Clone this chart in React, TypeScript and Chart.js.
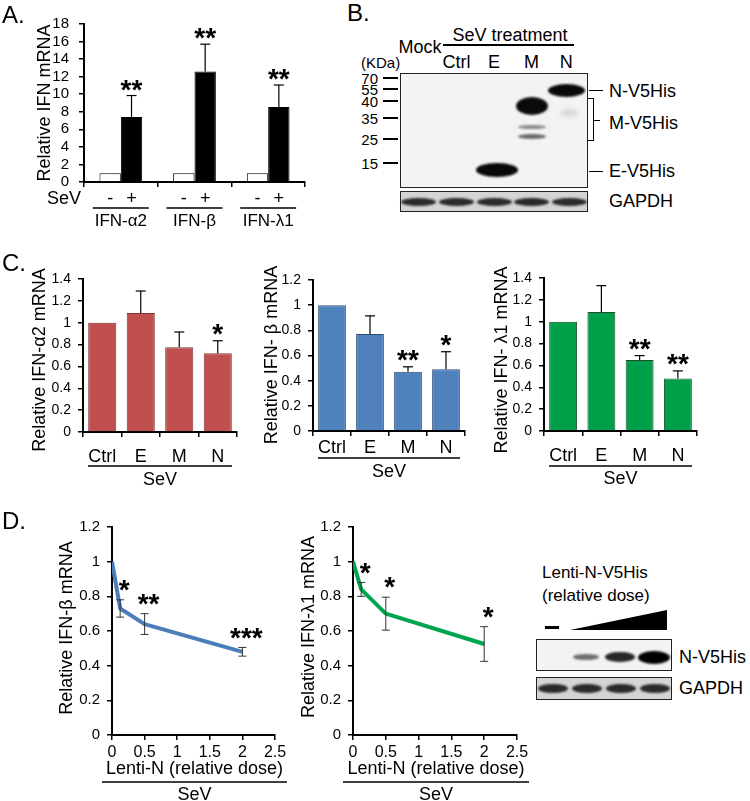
import React, { useEffect, useRef } from 'react';
import { Chart, registerables } from 'chart.js';
Chart.register(...registerables);

const FONT = '"Liberation Sans", Arial, Helvetica, sans-serif';
const W = 750;
const H = 801;

// ---------- Panel A data ----------
const aGroups = ['IFN-α2', 'IFN-β', 'IFN-λ1'];
const aMock = [1, 1, 1];
const aSeV = [7.4, 12.6, 8.55];
const aSeVErr = [2.45, 3.1, 2.5];
const aSig = ['**', '**', '**'];
const aYTicks = [0, 2, 4, 6, 8, 10, 12, 14, 16, 18];
const aSeVMarks = ['-', '+'];

// ---------- Panel C data ----------
const cCats = ['Ctrl', 'E', 'M', 'N'];
const cYTicks14 = [0, 0.2, 0.4, 0.6, 0.8, 1, 1.2, 1.4];
const cYTicks12 = [0, 0.2, 0.4, 0.6, 0.8, 1, 1.2];
const cAlpha = [1, 1.09, 0.775, 0.72];
const cAlphaErr = [0, 0.2, 0.14, 0.115];
const cAlphaSig = ['', '', '', '*'];
const cBeta = [1, 0.77, 0.47, 0.49];
const cBetaErr = [0, 0.145, 0.04, 0.14];
const cBetaSig = ['', '', '**', '*'];
const cLambda = [1, 1.09, 0.65, 0.48];
const cLambdaErr = [0, 0.24, 0.04, 0.07];
const cLambdaSig = ['', '', '**', '**'];

// ---------- Panel D data ----------
const dDose = [0, 0.125, 0.5, 2];
const dXTicks = [0, 0.5, 1, 1.5, 2, 2.5];
const dYTicks = [0, 0.2, 0.4, 0.6, 0.8, 1, 1.2];
const dBeta = [1, 0.73, 0.64, 0.48];
const dBetaErr = [0, 0.05, 0.06, 0.025];
const dBetaSig = ['', '*', '**', '***'];
const dLambda = [1, 0.84, 0.7, 0.525];
const dLambdaErr = [0, 0.04, 0.095, 0.1];
const dLambdaSig = ['', '*', '*', '*'];

// ---------- Blot content ----------
const bLanes = ['Mock', 'Ctrl', 'E', 'M', 'N'];
const bMarkers = ['70', '55', '40', '35', '25', '15'];
const bProteins = ['N-V5His', 'M-V5His', 'E-V5His'];
const dBlotIntensity = [0, 0.3, 0.75, 1];

type Area = { L: number; R: number; T: number; B: number };

const fmt = (v: number) => String(Math.round(v * 100) / 100);

function padOf(a: Area, wy = 40, hx = 30) {
  return { left: a.L - wy, top: a.T, right: W - a.R, bottom: H - a.B - hx };
}

function yAxis(ticks: number[], size: number, tickPad: number) {
  return {
    type: 'linear',
    min: ticks[0],
    max: ticks[ticks.length - 1],
    afterBuildTicks: (s: any) => {
      s.ticks = ticks.map((value) => ({ value }));
    },
    afterFit: (s: any) => {
      s.width = 40;
    },
    border: { display: true, color: '#000', width: 2 },
    grid: { display: true, drawOnChartArea: false, drawTicks: true, tickLength: 5, color: '#000', lineWidth: 1.5 },
    ticks: {
      color: '#000',
      font: { family: FONT, size },
      padding: tickPad,
      autoSkip: false,
      callback: (v: any) => fmt(Number(v)),
    },
  };
}

function xCat(size: number, tickPad: number, show: boolean) {
  return {
    type: 'category',
    offset: true,
    afterFit: (s: any) => {
      s.height = 30;
    },
    border: { display: true, color: '#000', width: 2 },
    grid: { display: true, offset: true, drawOnChartArea: false, drawTicks: true, tickLength: 5, color: '#000', lineWidth: 1.5 },
    ticks: { display: show, color: '#000', font: { family: FONT, size }, padding: tickPad, maxRotation: 0, autoSkip: false },
  };
}

function common(area: Area, scales: any) {
  return {
    responsive: false,
    animation: false,
    devicePixelRatio: 1,
    events: [],
    layout: { padding: padOf(area) },
    plugins: { legend: { display: false }, tooltip: { enabled: false }, title: { display: false } },
    scales,
  };
}

// ---------- canvas helpers ----------
function txt(ctx: CanvasRenderingContext2D, s: string, x: number, cy: number, size: number, align: CanvasTextAlign = 'center', weight = 'normal') {
  ctx.save();
  ctx.font = `${weight} ${size}px ${FONT}`;
  ctx.fillStyle = '#000';
  ctx.textAlign = align;
  ctx.textBaseline = 'alphabetic';
  ctx.fillText(s, x, cy + 0.358 * size);
  ctx.restore();
}
function vtxt(ctx: CanvasRenderingContext2D, s: string, bx: number, cy: number, size: number) {
  ctx.save();
  ctx.translate(bx, cy);
  ctx.rotate(-Math.PI / 2);
  ctx.font = `${size}px ${FONT}`;
  ctx.fillStyle = '#000';
  ctx.textAlign = 'center';
  ctx.textBaseline = 'alphabetic';
  ctx.fillText(s, 0, 0);
  ctx.restore();
}
function star(ctx: CanvasRenderingContext2D, s: string, x: number, cy: number, size = 28) {
  if (!s) return;
  ctx.save();
  ctx.font = `bold ${size}px ${FONT}`;
  ctx.fillStyle = '#000';
  ctx.textAlign = 'center';
  ctx.textBaseline = 'alphabetic';
  ctx.fillText(s, x, cy + 0.575 * size);
  ctx.restore();
}
function seg(ctx: CanvasRenderingContext2D, x1: number, y1: number, x2: number, y2: number, w = 1, c = '#000') {
  ctx.save();
  ctx.strokeStyle = c;
  ctx.lineWidth = w;
  ctx.beginPath();
  ctx.moveTo(x1, y1);
  ctx.lineTo(x2, y2);
  ctx.stroke();
  ctx.restore();
}
function errBar(ctx: CanvasRenderingContext2D, x: number, y1: number, y2: number, cap: number, c = '#000', w = 1.2) {
  seg(ctx, x, y1, x, y2, w, c);
  seg(ctx, x - cap, y2, x + cap, y2, w, c);
}

function deco(id: string, fn: (chart: any, ctx: CanvasRenderingContext2D) => void) {
  return { id, afterDraw: (chart: any) => fn(chart, chart.ctx) };
}

// ---------- Panel A ----------
const aArea: Area = { L: 84, R: 305, T: 24, B: 182 };
function makeA(): any {
  return {
    type: 'bar',
    data: {
      labels: aGroups,
      datasets: [
        { data: aMock, backgroundColor: '#fff', borderColor: '#000', borderWidth: 1, barPercentage: 1, categoryPercentage: 0.58 },
        { data: aSeV, backgroundColor: '#000', borderColor: '#000', borderWidth: 1, barPercentage: 1, categoryPercentage: 0.58 },
      ],
    },
    options: common(aArea, { x: xCat(17, 10, false), y: yAxis(aYTicks, 15, 10) }),
    plugins: [
      deco('decoA', (chart, ctx) => {
        const x = chart.scales.x;
        const y = chart.scales.y;
        const m0 = chart.getDatasetMeta(0);
        const m1 = chart.getDatasetMeta(1);
        aSeV.forEach((v, j) => {
          const bx = m1.data[j].x;
          const ye = y.getPixelForValue(v + aSeVErr[j]);
          errBar(ctx, bx, y.getPixelForValue(v), ye, 5);
          star(ctx, aSig[j], bx, ye - 13);
          txt(ctx, aSeVMarks[0], m0.data[j].x, 198, 18);
          txt(ctx, aSeVMarks[1], m1.data[j].x, 198, 18);
          const cx = x.getPixelForTick(j);
          seg(ctx, cx - 28, 208, cx + 28, 208, 1.5);
          txt(ctx, aGroups[j], cx, 220, 17);
        });
        txt(ctx, 'SeV', aArea.L - 20, 198, 18);
        vtxt(ctx, 'Relative IFN mRNA', 50, 103, 18);
        txt(ctx, 'A.', 2, 14, 24, 'left');
      }),
    ],
  };
}

// ---------- Panel C ----------
type CCfg = {
  id: string; area: Area; vals: number[]; errs: number[]; sigs: string[]; ticks: number[];
  fill: string; border: string; title: string; titleX: number; titleY: number;
  labelPad: number; ulY: number; sevY: number; letter?: boolean;
};
function makeC(c: CCfg): any {
  return {
    type: 'bar',
    data: {
      labels: cCats,
      datasets: [{ data: c.vals, backgroundColor: c.fill, borderColor: c.border, borderWidth: 1, barPercentage: 1, categoryPercentage: 0.73 }],
    },
    options: common(c.area, { x: xCat(18, c.labelPad, true), y: yAxis(c.ticks, 14, 7) }),
    plugins: [
      deco(c.id, (chart, ctx) => {
        const y = chart.scales.y;
        const m = chart.getDatasetMeta(0);
        c.vals.forEach((v, j) => {
          const bx = m.data[j].x;
          let top = y.getPixelForValue(v);
          if (c.errs[j] > 0) {
            top = y.getPixelForValue(v + c.errs[j]);
            errBar(ctx, bx, y.getPixelForValue(v), top, 5);
          }
          star(ctx, c.sigs[j], bx, top - 14);
        });
        seg(ctx, c.area.L + 5, c.ulY, c.area.R - 5, c.ulY, 1.5);
        txt(ctx, 'SeV', (c.area.L + c.area.R) / 2, c.sevY, 18);
        vtxt(ctx, c.title, c.titleX, c.titleY, 18);
        if (c.letter) txt(ctx, 'C.', 2, 262, 24, 'left');
      }),
    ],
  };
}

// ---------- Panel D ----------
type DCfg = {
  id: string; area: Area; vals: number[]; errs: number[]; sigs: string[]; color: string;
  title: string; titleX: number; titleY: number; letter?: boolean;
};
function makeD(c: DCfg): any {
  return {
    type: 'line',
    data: {
      datasets: [
        {
          data: dDose.map((x, i) => ({ x, y: c.vals[i] })),
          borderColor: c.color,
          borderWidth: 4,
          pointRadius: 0,
          tension: 0,
          fill: false,
          borderJoinStyle: 'round',
        },
      ],
    },
    options: common(c.area, {
      x: {
        type: 'linear',
        min: dXTicks[0],
        max: dXTicks[dXTicks.length - 1],
        afterBuildTicks: (s: any) => {
          s.ticks = dXTicks.map((value) => ({ value }));
        },
        afterFit: (s: any) => {
          s.height = 30;
        },
        border: { display: true, color: '#000', width: 2 },
        grid: { display: true, drawOnChartArea: false, drawTicks: true, tickLength: 5, color: '#000', lineWidth: 1.5 },
        ticks: { color: '#000', font: { family: FONT, size: 16 }, padding: 3, maxRotation: 0, autoSkip: false, callback: (v: any) => fmt(Number(v)) },
      },
      y: yAxis(dYTicks, 15, 7),
    }),
    plugins: [
      deco(c.id, (chart, ctx) => {
        const y = chart.scales.y;
        const m = chart.getDatasetMeta(0);
        c.vals.forEach((v, j) => {
          if (c.errs[j] <= 0) return;
          const px = m.data[j].x;
          const yt = y.getPixelForValue(v + c.errs[j]);
          const yb = y.getPixelForValue(v - c.errs[j]);
          seg(ctx, px, yt, px, yb, 1, '#333');
          seg(ctx, px - 4, yt, px + 4, yt, 1, '#333');
          seg(ctx, px - 4, yb, px + 4, yb, 1, '#333');
          star(ctx, c.sigs[j], px + 4, yt - 17);
        });
        const cx = (c.area.L + c.area.R) / 2;
        txt(ctx, 'Lenti-N (relative dose)', cx + 1, 768, 18);
        seg(ctx, c.area.L - 10, 782, c.area.R + 12, 782, 1.5);
        txt(ctx, 'SeV', cx + 1, 794, 18);
        vtxt(ctx, c.title, c.titleX, c.titleY, 18);
        if (c.letter) txt(ctx, 'D.', 2, 520, 24, 'left');
      }),
    ],
  };
}

// ---------- HTML helpers for blots ----------
function Label(p: { x: number; y: number; size: number; text: string; align?: 'left' | 'center' | 'right' }) {
  const tx = p.align === 'center' ? '-50%' : p.align === 'right' ? '-100%' : '0';
  return (
    <div
      style={{
        position: 'absolute',
        left: p.x,
        top: p.y - 0.49 * p.size,
        fontSize: p.size,
        lineHeight: `${p.size}px`,
        fontFamily: FONT,
        whiteSpace: 'nowrap',
        color: '#000',
        transform: `translateX(${tx})`,
      }}
    >
      {p.text}
    </div>
  );
}
function Rect(p: { x: number; y: number; w: number; h: number; bg: string; border?: string; clip?: string }) {
  return (
    <div
      style={{
        position: 'absolute',
        left: p.x,
        top: p.y,
        width: p.w,
        height: p.h,
        background: p.bg,
        border: p.border,
        boxSizing: 'border-box',
        clipPath: p.clip,
      }}
    />
  );
}
function Band(p: { cx: number; cy: number; w: number; h: number; color: string; blur?: number }) {
  return (
    <div
      style={{
        position: 'absolute',
        left: p.cx - p.w / 2,
        top: p.cy - p.h / 2,
        width: p.w,
        height: p.h,
        background: p.color,
        borderRadius: '50%',
        filter: `blur(${p.blur ?? 1.2}px)`,
      }}
    />
  );
}

export default function App() {
  const rA = useRef<HTMLCanvasElement>(null);
  const rC1 = useRef<HTMLCanvasElement>(null);
  const rC2 = useRef<HTMLCanvasElement>(null);
  const rC3 = useRef<HTMLCanvasElement>(null);
  const rD1 = useRef<HTMLCanvasElement>(null);
  const rD2 = useRef<HTMLCanvasElement>(null);

  useEffect(() => {
    const charts: Chart[] = [];
    charts.push(new Chart(rA.current as HTMLCanvasElement, makeA()));
    charts.push(
      new Chart(
        rC1.current as HTMLCanvasElement,
        makeC({
          id: 'c1', area: { L: 83, R: 237, T: 279, B: 432 }, vals: cAlpha, errs: cAlphaErr, sigs: cAlphaSig, ticks: cYTicks14,
          fill: '#c0504d', border: '#7a3230', title: 'Relative IFN-α2 mRNA', titleX: 45, titleY: 360,
          labelPad: 9, ulY: 466, sevY: 479, letter: true,
        })
      )
    );
    charts.push(
      new Chart(
        rC2.current as HTMLCanvasElement,
        makeC({
          id: 'c2', area: { L: 313, R: 465, T: 280, B: 431 }, vals: cBeta, errs: cBetaErr, sigs: cBetaSig, ticks: cYTicks12,
          fill: '#4f81bd', border: '#2b4a70', title: 'Relative IFN- β mRNA', titleX: 277, titleY: 355,
          labelPad: 1, ulY: 458, sevY: 471,
        })
      )
    );
    charts.push(
      new Chart(
        rC3.current as HTMLCanvasElement,
        makeC({
          id: 'c3', area: { L: 544, R: 697, T: 278, B: 431 }, vals: cLambda, errs: cLambdaErr, sigs: cLambdaSig, ticks: cYTicks14,
          fill: '#00a04b', border: '#1d4d2c', title: 'Relative IFN- λ1 mRNA', titleX: 507, titleY: 360,
          labelPad: 9, ulY: 466, sevY: 478,
        })
      )
    );
    charts.push(
      new Chart(
        rD1.current as HTMLCanvasElement,
        makeD({
          id: 'd1', area: { L: 112, R: 275, T: 527, B: 735 }, vals: dBeta, errs: dBetaErr, sigs: dBetaSig, color: '#4a7ebb',
          title: 'Relative IFN-β mRNA', titleX: 72, titleY: 628, letter: true,
        })
      )
    );
    charts.push(
      new Chart(
        rD2.current as HTMLCanvasElement,
        makeD({
          id: 'd2', area: { L: 353, R: 517, T: 527, B: 735 }, vals: dLambda, errs: dLambdaErr, sigs: dLambdaSig, color: '#00a550',
          title: 'Relative IFN-λ1 mRNA', titleX: 314, titleY: 627,
        })
      )
    );
    return () => charts.forEach((c) => c.destroy());
  }, []);

  const cv = { position: 'absolute' as const, left: 0, top: 0, width: W, height: H };

  // Blot B geometry
  const bx0 = 400, by0 = 73, bw = 188, bh = 115;
  const laneX = (i: number) => bx0 + (bw * (i + 0.5)) / bLanes.length;
  const markerY = [78, 89, 101, 118, 139, 163];
  const protY = [91, 123, 171];

  // Blot D geometry
  const dx0 = 536, dw = 136;
  const dLaneX = (i: number) => dx0 + (dw * (i + 0.5)) / dBlotIntensity.length;

  return (
    <div style={{ position: 'absolute', left: 0, top: 0, width: W, height: H, background: '#fff', overflow: 'hidden' }}>
      {/* ---------- Blot B ---------- */}
      <Label x={347} y={13} size={24} text="B." />
      <Label x={420} y={47} size={18} text={bLanes[0]} align="center" />
      <Label x={510} y={35} size={18} text="SeV treatment" align="center" />
      <Rect x={443} y={44} w={131} h={1.5} bg="#000" />
      {bLanes.slice(1).map((l, i) => (
        <Label key={l} x={laneX(i + 1) - (i === 3 ? 3 : 0)} y={62} size={18} text={l} align="center" />
      ))}
      <Label x={361} y={62} size={15} text="(KDa)" />
      {bMarkers.map((m, i) => (
        <React.Fragment key={m}>
          <Label x={378} y={markerY[i]} size={15} text={m} align="right" />
          <Rect x={383} y={markerY[i] - 1.25} w={15} h={2.5} bg="#000" />
        </React.Fragment>
      ))}
      <Rect x={bx0} y={by0} w={bw} h={bh} bg="#f3f3f3" border="1.5px solid #222" />
      <Band cx={laneX(2) + 3} cy={170} w={42} h={14} color="#080808" />
      <Band cx={laneX(3)} cy={106} w={32} h={18} color="#0b0b0b" />
      <Band cx={laneX(3)} cy={127} w={28} h={4} color="#8a8a8a" blur={0.8} />
      <Band cx={laneX(3)} cy={136} w={28} h={5} color="#6a6a6a" blur={0.8} />
      <Band cx={laneX(4) - 3} cy={90} w={37} h={13} color="#080808" />
      <Band cx={laneX(4)} cy={113} w={18} h={8} color="#d8d8d8" blur={2} />
      <Rect x={bx0} y={191} w={bw} h={21} bg="#d4d4d4" border="1.5px solid #222" />
      {bLanes.map((l, i) => (
        <Band key={'g' + l} cx={laneX(i)} cy={201.5} w={35} h={8} color="#2a2a2a" />
      ))}
      <Rect x={589} y={89.5} w={14} h={1.5} bg="#000" />
      <Rect x={589} y={170.5} w={14} h={1.5} bg="#000" />
      <Rect x={588} y={97.5} w={6} h={1.5} bg="#000" />
      <Rect x={592.5} y={97.5} w={1.5} h={43} bg="#000" />
      <Rect x={588} y={139.5} w={6} h={1.5} bg="#000" />
      <Rect x={593} y={119.5} w={7} h={1.5} bg="#000" />
      {bProteins.map((p, i) => (
        <Label key={p} x={609} y={protY[i]} size={18} text={p} />
      ))}
      <Label x={609} y={201} size={18} text="GAPDH" />

      {/* ---------- Blot D ---------- */}
      <Label x={542} y={572} size={17} text="Lenti-N-V5His" />
      <Label x={542} y={595} size={17} text="(relative dose)" />
      <Rect x={545} y={626} w={14} h={2.5} bg="#000" />
      <Rect x={570} y={610} w={97} h={20} bg="#000" clip="polygon(0 100%, 100% 0, 100% 100%)" />
      <Rect x={dx0} y={639} w={dw} h={32} bg="#f3f3f3" border="1.5px solid #222" />
      {dBlotIntensity.map((v, i) =>
        v > 0 ? (
          <Band key={'n' + i} cx={dLaneX(i) - 1} cy={657} w={24 + 8 * v} h={3 + 10 * v} color={`rgba(0,0,0,${0.35 + 0.65 * v})`} />
        ) : null
      )}
      <Rect x={dx0} y={677} w={dw} h={23} bg="#d4d4d4" border="1.5px solid #222" />
      {dBlotIntensity.map((_, i) => (
        <Band key={'dg' + i} cx={dLaneX(i)} cy={688.5} w={30} h={9} color="#2a2a2a" />
      ))}
      <Label x={679} y={657} size={18} text="N-V5His" />
      <Label x={679} y={688} size={18} text="GAPDH" />

      {/* ---------- Charts ---------- */}
      <canvas ref={rA} width={W} height={H} style={cv} />
      <canvas ref={rC1} width={W} height={H} style={cv} />
      <canvas ref={rC2} width={W} height={H} style={cv} />
      <canvas ref={rC3} width={W} height={H} style={cv} />
      <canvas ref={rD1} width={W} height={H} style={cv} />
      <canvas ref={rD2} width={W} height={H} style={cv} />
    </div>
  );
}
